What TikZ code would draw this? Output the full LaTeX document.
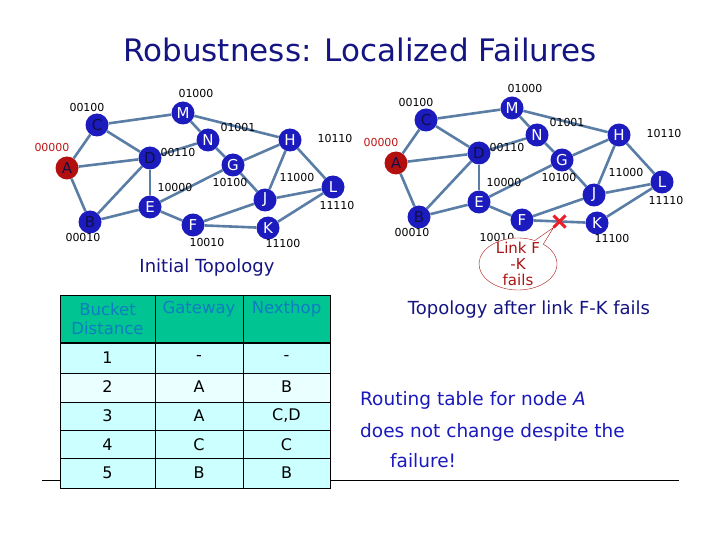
\documentclass[tikz,border=0pt]{standalone}
\usepackage{fontspec}
\setmainfont{DejaVu Sans}
\usetikzlibrary{shapes.misc,shapes.callouts,calc}

\definecolor{titleblue}{RGB}{20,20,130}
\definecolor{nodeblue}{RGB}{28,28,190}
\definecolor{nodered}{RGB}{180,15,15}
\definecolor{inkdark}{RGB}{15,15,70}
\definecolor{linkblue}{RGB}{90,125,165}
\definecolor{addrred}{RGB}{190,20,20}
\definecolor{headgreen}{RGB}{0,196,145}
\definecolor{headtext}{RGB}{15,125,195}
\definecolor{rowcyan}{RGB}{204,255,255}
\definecolor{rowpale}{RGB}{234,255,255}
\definecolor{noteblue}{RGB}{25,25,190}
\definecolor{calloutred}{RGB}{170,20,20}
\definecolor{failred}{RGB}{235,30,40}

\tikzset{
  router/.style={circle,fill=nodeblue,minimum size=23pt,inner sep=0pt,text=white,
    font=\fontsize{15}{15}\selectfont},
  link/.style={draw=linkblue,line width=2.6pt},
  addr/.style={font=\fontsize{11}{11}\selectfont,inner sep=0pt},
  caption/.style={font=\fontsize{18}{18}\selectfont,text=titleblue},
  note/.style={font=\fontsize{18.5}{18.5}\selectfont,text=noteblue,anchor=west,inner sep=0pt},
  cell/.style={font=\fontsize{16}{16}\selectfont},
  headcell/.style={font=\fontsize{16.5}{19}\selectfont,text=headtext,align=center},
}

\begin{document}
\begin{tikzpicture}[x=1pt,y=-1pt]
  \useasboundingbox (0,0) rectangle (720,540);

  \node[font=\fontsize{31}{31}\selectfont,text=titleblue] (title) at (360,50) {Robustness: Localized Failures};

  % same network twice: l = initial, r = after the failure
  \foreach \s/\dx/\dy/\fx in {l/0/0/207, r/329/-5/168}{
    \begin{scope}[shift={(\dx,\dy)}]
      \node[router,fill=nodered,text=inkdark] (\s A) at (67,168) {A};
      \node[router,text=inkdark] (\s C) at (97,125) {C};
      \node[router] (\s M) at (183,113) {M};
      \node[router] (\s N) at (208,140) {N};
      \node[router,text=inkdark] (\s D) at (150,158) {D};
      \node[router] (\s H) at (290,140) {H};
      \node[router] (\s G) at (233,165) {G};
      \node[router] (\s L) at (333,187) {L};
      \node[router] (\s J) at (265,200) {J};
      \node[router] (\s E) at (150,207) {E};
      \node[router,text=inkdark] (\s B) at (90,222) {B};
      \node[router] (\s F) at (193,225) {F};
      \node[router] (\s K) at (268,228) {K};

      \foreach \u/\v in {A/C,A/D,A/B,C/M,C/D,M/N,M/H,D/N,N/G,G/H,G/E,G/J,H/J,H/L,J/L,J/F,D/E,D/B,B/E,E/F,F/K,K/L}
        \draw[link] (\s\u) -- (\s\v);

      \node[addr,text=addrred] (\s A-id) at (52,147) {00000};
      \node[addr] (\s C-id) at (87,107) {00100};
      \node[addr] (\s M-id) at (196,93) {01000};
      \node[addr] (\s N-id) at (238,127) {01001};
      \node[addr] (\s H-id) at (335,138) {10110};
      \node[addr] (\s D-id) at (178,152) {00110};
      \node[addr] (\s E-id) at (175,187) {10000};
      \node[addr] (\s G-id) at (230,182) {10100};
      \node[addr] (\s J-id) at (297,177) {11000};
      \node[addr] (\s L-id) at (337,205) {11110};
      \node[addr] (\s B-id) at (83,237) {00010};
      \node[addr] (\s F-id) at (\fx,242) {10010};
      \node[addr] (\s K-id) at (283,243) {11100};
    \end{scope}
  }

  % failed link
  \node[cross out,draw=failred,line width=3pt,minimum size=9pt,inner sep=0pt] (fail) at ($(rF)!0.5!(rK)$) {};
  \node[ellipse callout,draw=calloutred,fill=white,minimum width=78pt,minimum height=52pt,
    callout absolute pointer={(fail.south west)}] (bubble) at (518,264) {};
  \node[align=center,text=calloutred,font=\fontsize{15}{16}\selectfont] (bubble-txt) at (bubble.center) {Link F\\-K\\fails};

  \node[caption] (cap-l) at (207,268) {Initial Topology};
  \node[caption] (cap-r) at (529,310) {Topology after link F-K fails};

  \draw[line width=0.9pt] (42,480) -- (679,480);

  % routing table of A
  \fill[headgreen] (60,295) rectangle (330,343);
  \fill[rowcyan] (60,343) rectangle (330,488);
  \fill[rowpale] (60,373) rectangle (330,402);
  \foreach \y in {373,402,430,458}
    \draw (60,\y) -- (330,\y);
  \foreach \x in {155,243}
    \draw (\x,295) -- (\x,488);
  \draw[line width=2pt] (60,343) -- (330,343);
  \draw (60,295) rectangle (330,488);

  \node[headcell] (h-dist) at (107.5,319) {Bucket\\Distance};
  \node[headcell] (h-gate) at (199,309) {Gateway};
  \node[headcell] (h-next) at (286.5,309) {Nexthop};
  \foreach \d/\g/\n [count=\i] in {1/-/-, 2/A/B, 3/A/{C,D}, 4/C/C, 5/B/B}{
    \node[cell] (d\i) at (107.5,{329.25+28.75*\i}) {\d};
    \node[cell] (g\i) at (199,{329.25+28.75*\i}) {\g};
    \node[cell] (n\i) at (286.5,{329.25+28.75*\i}) {\n};
  }

  \node[note] (note-1) at (360,400) {Routing table for node \textit{A}};
  \node[note] (note-2) at (360,432) {does not change despite the};
  \node[note] (note-3) at (390,461) {failure!};
\end{tikzpicture}
\end{document}
